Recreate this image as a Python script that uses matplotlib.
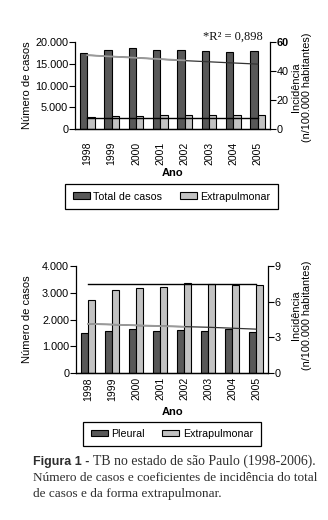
import numpy as np
import matplotlib.pyplot as plt
from matplotlib.patches import Patch
from matplotlib.ticker import FuncFormatter

years = ['1998', '1999', '2000', '2001', '2002', '2003', '2004', '2005']

# painel superior
total_cases = [17600, 18300, 18550, 18100, 18100, 17850, 17650, 17850]
extra_cases_top = [2700, 3000, 3000, 3200, 3200, 3200, 3200, 3200]
total_incid = [51.0, 50.1, 49.2, 48.2, 47.2, 46.4, 45.6, 44.8]
extra_incid_top = [7.4, 7.4, 7.4, 7.4, 7.4, 7.4, 7.4, 7.4]

# painel inferior
pleural_cases = [1490, 1560, 1640, 1560, 1590, 1560, 1640, 1525]
extra_cases_bot = [2725, 3100, 3190, 3210, 3360, 3320, 3290, 3290]
pleural_incid = [4.13, 4.08, 4.0, 3.95, 3.9, 3.85, 3.77, 3.69]
extra_incid_bot = [7.46, 7.46, 7.46, 7.46, 7.46, 7.46, 7.46, 7.46]

plt.rcParams['font.family'] = ['Liberation Sans', 'DejaVu Sans']
plt.rcParams['font.size'] = 7.5

DARK = '#585858'
LIGHT = '#c2c2c2'
W = 0.3

fig = plt.figure(figsize=(3.28, 5.20), dpi=100)

def thousands(v, pos):
    return f'{int(v):,}'.replace(',', '.')

def panel(rect, dark_vals, light_vals, ylim, yticks, rlim, rticks, trend_vals, flat_vals, xpad):
    ax = fig.add_axes(rect)
    x = np.arange(len(years))
    ax.bar(x - W / 2, dark_vals, W, color=DARK, edgecolor='black', linewidth=0.8)
    ax.bar(x + W / 2, light_vals, W, color=LIGHT, edgecolor='black', linewidth=0.8)
    ax.set_xlim(-0.5, len(years) - 0.5)
    ax.set_ylim(*ylim)
    ax.set_yticks(yticks)
    ax.yaxis.set_major_formatter(FuncFormatter(thousands))
    ax.set_xticks(x)
    ax.set_xticklabels(years, rotation=90)
    ax.tick_params(axis='x', length=0, pad=xpad, labelsize=7.5)
    ax.tick_params(axis='y', length=4, width=0.8, pad=1, labelsize=7.8)
    ax.spines['top'].set_visible(False)
    ax.spines['right'].set_visible(False)

    ax2 = ax.twinx()
    ax2.set_ylim(*rlim)
    ax2.set_yticks(rticks)
    ax2.tick_params(axis='y', length=4, width=0.8, pad=1, labelsize=7.8)
    ax2.spines['top'].set_visible(False)
    ax2.spines['left'].set_visible(False)
    ax2.plot(x, flat_vals, color='black', lw=1.0)
    ax2.plot(x, trend_vals, color='#333333', lw=0.9)
    # linha de tendencia (cinza) sobre a serie de incidencia
    fit = np.polyval(np.polyfit(x, trend_vals, 1), x)
    ax2.plot(x[:5], fit[:5], color='#9a9a9a', lw=1.3)
    for a in (ax, ax2):
        for s in a.spines.values():
            s.set_linewidth(0.9)
    return ax, ax2

ax, ax2 = panel([0.229, 0.752, 0.594, 0.167], total_cases, extra_cases_top,
                (0, 20000), [0, 5000, 10000, 15000, 20000],
                (0, 60), [0, 20, 40, 60], total_incid, extra_incid_top, 9)
ax2.get_yticklabels()[-1].set_fontweight('bold')

bx, bx2 = panel([0.232, 0.283, 0.585, 0.205], pleural_cases, extra_cases_bot,
                (0, 4000), [0, 1000, 2000, 3000, 4000],
                (0, 9), [0, 3, 6, 9], pleural_incid, extra_incid_bot, 3)

# rotulos
fig.text(0.083, 1 - 85.5 / 520, 'Número de casos', rotation=90, ha='center', va='center', fontsize=8)
fig.text(0.083, 1 - 319 / 520, 'Número de casos', rotation=90, ha='center', va='center', fontsize=8)
fig.text(0.92, 1 - 87 / 520, 'Incidência\n(n/100.000 habitantes)', rotation=90,
         ha='center', va='center', fontsize=7.8, linespacing=1.1)
fig.text(0.918, 1 - 315 / 520, 'Incidência\n(n/100.000 habitantes)', rotation=90,
         ha='center', va='center', fontsize=7.8, linespacing=1.1)
fig.text(0.526, 1 - 173 / 520, 'Ano', ha='center', va='center', fontsize=8, fontweight='bold')
fig.text(0.526, 1 - 412 / 520, 'Ano', ha='center', va='center', fontsize=8, fontweight='bold')
fig.text(0.801, 1 - 36.7 / 520, '*R² = 0,898', ha='right', va='center', fontsize=9,
         color='#111111', family=['Liberation Serif', 'DejaVu Serif'])

def legend(labels, cx, cy):
    handles = [Patch(facecolor=DARK, edgecolor='black', lw=0.8),
               Patch(facecolor=LIGHT, edgecolor='black', lw=0.8)]
    fig.legend(handles, labels, loc='center', bbox_to_anchor=(cx, cy), ncol=2,
               fancybox=False, edgecolor='black', framealpha=1, fontsize=7.7,
               handlelength=1.6, handleheight=0.55, handletextpad=0.35,
               columnspacing=1.6, borderpad=0.7).get_frame().set_linewidth(0.9)

legend(['Total de casos', 'Extrapulmonar'], 0.523, 1 - 196.5 / 520)
legend(['Pleural', 'Extrapulmonar'], 0.524, 1 - 434 / 520)

# legenda da figura
cap = dict(fontsize=9.5, color='#2e2e2e', family=['Liberation Serif', 'DejaVu Serif'], va='center')
t0 = fig.text(0.1, 1 - 461.7 / 520, 'Figura 1 - ', fontweight='bold',
              **dict(cap, family=['Liberation Sans', 'DejaVu Sans'], fontsize=9))
r = fig.canvas.get_renderer()
bb = t0.get_window_extent(r)
fig.text(bb.x1 / fig.bbox.width, 1 - 461.7 / 520, 'TB no estado de são Paulo (1998-2006).',
         **dict(cap, fontsize=9.9))
fig.text(0.1, 1 - 478 / 520, 'Número de casos e coeficientes de incidência do total', **cap)
fig.text(0.1, 1 - 493.5 / 520, 'de casos e da forma extrapulmonar.', **cap)

fig.savefig('out.png', dpi=100)
